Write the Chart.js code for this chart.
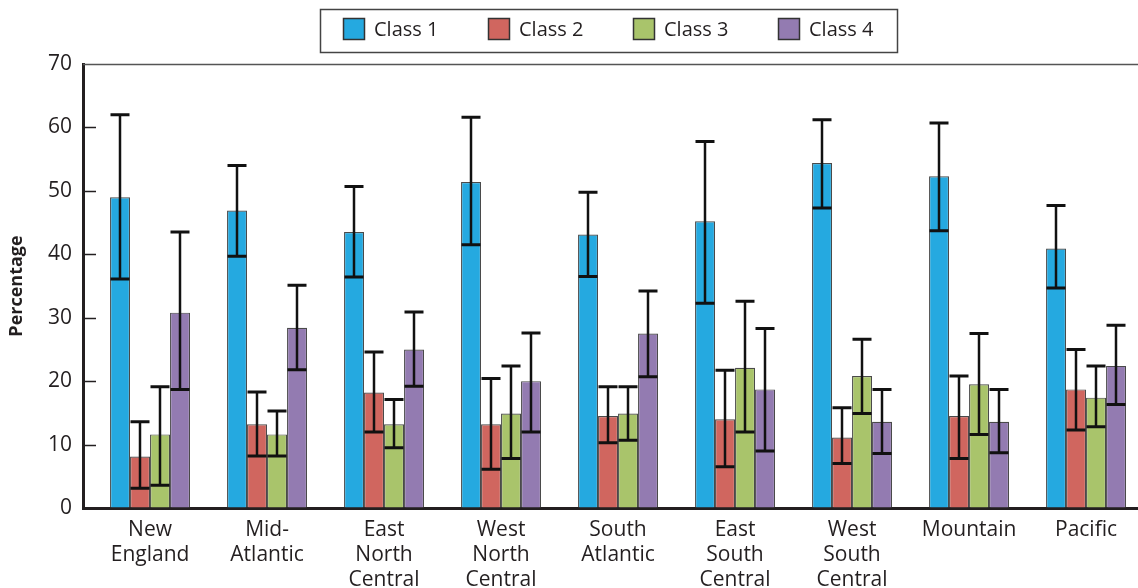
<!DOCTYPE html>
<html>
<head>
<meta charset="utf-8">
<script src="https://cdn.jsdelivr.net/npm/chart.js@4.4.1/dist/chart.umd.min.js"></script>
<style>
  html, body { margin: 0; padding: 0; background: #fff; overflow: hidden; }
  canvas { display: block; }
</style>
</head>
<body>
<canvas id="chart" width="1138" height="588"></canvas>
<script>
// Census regions (multi-line tick labels)
const regions = [
  ['New', 'England'], ['Mid-', 'Atlantic'], ['East', 'North', 'Central'],
  ['West', 'North', 'Central'], ['South', 'Atlantic'], ['East', 'South', 'Central'],
  ['West', 'South', 'Central'], ['Mountain'], ['Pacific']
];
const seriesNames = ['Class 1', 'Class 2', 'Class 3', 'Class 4'];

// Percentages with lower / upper interval bounds
const class1     = [49.0, 46.9, 43.5, 51.4, 43.1, 45.2, 54.4, 52.3, 40.9];
const class1Low  = [36.1, 39.7, 36.4, 41.5, 36.5, 32.3, 47.3, 43.7, 34.7];
const class1High = [62.0, 54.0, 50.7, 61.6, 49.8, 57.8, 61.2, 60.7, 47.7];

const class2     = [8.1, 13.2, 18.2, 13.2, 14.5, 14.0, 11.1, 14.5, 18.7];
const class2Low  = [3.1, 8.2, 12.0, 6.1, 10.3, 6.5, 7.0, 7.8, 12.3];
const class2High = [13.6, 18.3, 24.6, 20.4, 19.1, 21.7, 15.8, 20.8, 25.0];

const class3     = [11.6, 11.6, 13.2, 14.9, 14.9, 22.1, 20.8, 19.5, 17.4];
const class3Low  = [3.6, 8.2, 9.5, 7.8, 10.7, 12.0, 14.9, 11.6, 12.8];
const class3High = [19.1, 15.3, 17.1, 22.4, 19.1, 32.6, 26.6, 27.5, 22.4];

const class4     = [30.8, 28.4, 25.0, 20.0, 27.5, 18.7, 13.6, 13.6, 22.4];
const class4Low  = [18.7, 21.8, 19.2, 12.0, 20.7, 9.0, 8.6, 8.7, 16.3];
const class4High = [43.5, 35.1, 30.9, 27.6, 34.2, 28.3, 18.7, 18.7, 28.8];

const yTicks = [0, 10, 20, 30, 40, 50, 60, 70];

const values = [class1, class2, class3, class4];
const lows   = [class1Low, class2Low, class3Low, class4Low];
const highs  = [class1High, class2High, class3High, class4High];
const colors = ['#25a9e0', '#d0665f', '#a9c46b', '#937bb1'];

const FONT = "'Open Sans', 'Noto Sans', sans-serif";
const INK = '#231f20';

// Thin top rule and short inward tick marks on the value axis
const framePlugin = {
  id: 'frame',
  beforeDatasetsDraw(chart) {
    const { ctx, chartArea: a, scales: { y } } = chart;
    ctx.save();
    ctx.strokeStyle = '#555';
    ctx.lineWidth = 1.5;
    ctx.beginPath();
    ctx.moveTo(a.left, a.top + 0.5);
    ctx.lineTo(a.right, a.top + 0.5);
    ctx.stroke();
    ctx.strokeStyle = INK;
    y.ticks.forEach(t => {
      if (t.value <= y.min || t.value >= y.max) return;
      const py = Math.round(y.getPixelForValue(t.value)) + 0.5;
      ctx.beginPath();
      ctx.moveTo(a.left, py);
      ctx.lineTo(a.left + 13, py);
      ctx.stroke();
    });
    ctx.restore();
  }
};

// Interval whiskers drawn on top of each bar
const errorBarPlugin = {
  id: 'errorBars',
  afterDatasetsDraw(chart) {
    const { ctx, scales: { y } } = chart;
    ctx.save();
    ctx.strokeStyle = '#111';
    chart.data.datasets.forEach((ds, k) => {
      const meta = chart.getDatasetMeta(k);
      meta.data.forEach((bar, i) => {
        const x = Math.round(bar.x);
        const yLo = y.getPixelForValue(lows[k][i]);
        const yHi = y.getPixelForValue(highs[k][i]);
        const half = 9.5;
        ctx.lineWidth = 2.5;
        ctx.beginPath();
        ctx.moveTo(x, yLo);
        ctx.lineTo(x, yHi);
        ctx.stroke();
        ctx.lineWidth = 3;
        ctx.beginPath();
        ctx.moveTo(x - half, yHi);
        ctx.lineTo(x + half, yHi);
        ctx.moveTo(x - half, yLo);
        ctx.lineTo(x + half, yLo);
        ctx.stroke();
      });
    });
    ctx.restore();
  }
};

// Boxed legend across the top
const legendPlugin = {
  id: 'boxLegend',
  afterDraw(chart) {
    const { ctx } = chart;
    ctx.save();
    ctx.strokeStyle = '#444';
    ctx.lineWidth = 1.5;
    ctx.strokeRect(320.5, 9.5, 577, 43);
    ctx.font = `20px ${FONT}`;
    ctx.textBaseline = 'middle';
    ctx.textAlign = 'left';
    chart.data.datasets.forEach((ds, k) => {
      const bx = 343 + k * 145;
      ctx.fillStyle = ds.backgroundColor;
      ctx.fillRect(bx, 18, 22, 22);
      ctx.strokeStyle = '#333';
      ctx.lineWidth = 1.5;
      ctx.strokeRect(bx + 0.5, 18.5, 21, 21);
      ctx.fillStyle = INK;
      ctx.fillText(ds.label, bx + 31, 30);
    });
    ctx.restore();
  }
};

new Chart(document.getElementById('chart'), {
  type: 'bar',
  data: {
    datasets: seriesNames.map((name, k) => ({
      label: name,
      data: values[k].map((v, i) => ({ x: i, y: v })),
      backgroundColor: colors[k],
      borderColor: '#4a4a4a',
      borderWidth: 1.2,
      categoryPercentage: 80 / 117,
      barPercentage: 1.0
    }))
  },
  options: {
    responsive: false,
    animation: false,
    devicePixelRatio: 1,
    layout: { padding: { top: 64, left: 0, right: 0, bottom: 0 } },
    plugins: { legend: { display: false }, tooltip: { enabled: false } },
    scales: {
      x: {
        type: 'linear',
        offset: false,
        min: -0.573,
        max: 8.444,
        afterBuildTicks: s => { s.ticks = regions.map((_, i) => ({ value: i })); },
        afterFit: s => { s.height = 80; },
        grid: { display: true, drawOnChartArea: false, drawTicks: false },
        border: { display: true, color: INK, width: 3 },
        ticks: {
          autoSkip: false,
          maxRotation: 0,
          padding: 9,
          color: INK,
          font: { family: FONT, size: 21, lineHeight: 1.2 },
          callback: v => regions[v] ?? ''
        }
      },
      y: {
        min: 0,
        max: 70,
        afterBuildTicks: s => { s.ticks = yTicks.map(v => ({ value: v })); },
        afterFit: s => { s.width = 83; },
        grid: { display: true, drawOnChartArea: false, drawTicks: false },
        border: { display: true, color: INK, width: 3 },
        ticks: { padding: 11, color: INK, font: { family: FONT, size: 21 } },
        title: {
          display: true,
          text: 'Percentage',
          color: INK,
          font: { family: FONT, size: 18, weight: 'bold' },
          padding: { top: 6, bottom: 0 }
        }
      }
    }
  },
  plugins: [framePlugin, errorBarPlugin, legendPlugin]
});
</script>
</body>
</html>
